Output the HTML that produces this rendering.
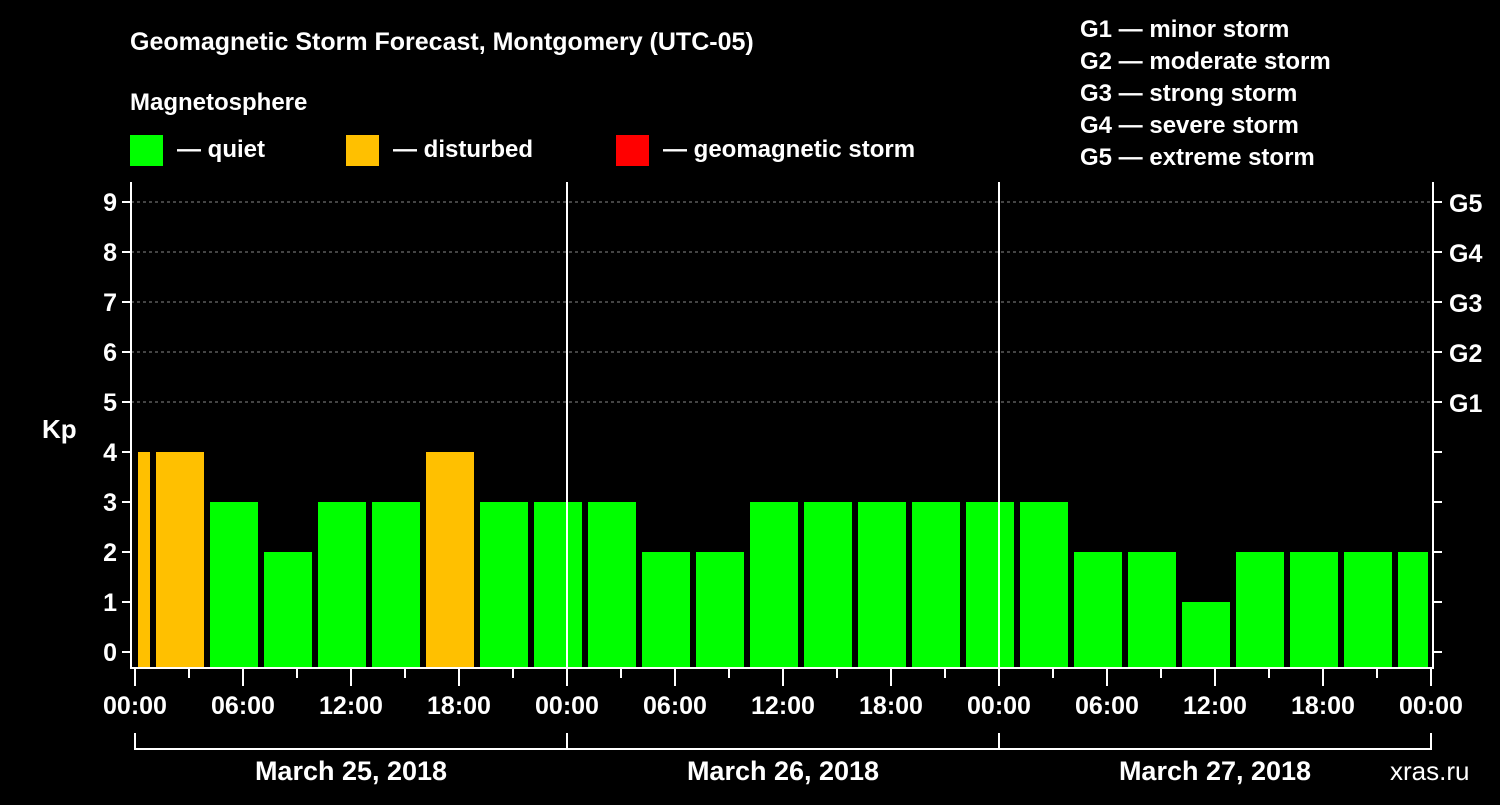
<!DOCTYPE html>
<html><head><meta charset="utf-8"><style>
body{margin:0;background:#000;}
svg text{font-family:"Liberation Sans",Arial,sans-serif;font-weight:bold;fill:#fff;}
</style></head><body>
<svg width="1500" height="800" viewBox="0 0 1500 800" xmlns="http://www.w3.org/2000/svg">
<rect width="1500" height="800" fill="#000"/>
<text x="130" y="50" font-size="25">Geomagnetic Storm Forecast, Montgomery (UTC-05)</text>
<text x="130" y="110" font-size="24">Magnetosphere</text>
<rect x="130" y="135" width="33" height="31" fill="#00ff00"/>
<text x="177" y="157" font-size="24">— quiet</text>
<rect x="346" y="135" width="33" height="31" fill="#ffc000"/>
<text x="393" y="157" font-size="24">— disturbed</text>
<rect x="616" y="135" width="33" height="31" fill="#ff0000"/>
<text x="663" y="157" font-size="24">— geomagnetic storm</text>
<g font-size="24">
<text x="1080" y="37">G1 — minor storm</text>
<text x="1080" y="69">G2 — moderate storm</text>
<text x="1080" y="101">G3 — strong storm</text>
<text x="1080" y="133">G4 — severe storm</text>
<text x="1080" y="165">G5 — extreme storm</text>
</g>
<text x="42" y="438" font-size="26">Kp</text>
<text x="1390" y="780" font-size="26" fill="#ccc" style="font-weight:normal">xras.ru</text>
<g id="plot"></g>
</svg>
<script>
const hours = [-2,1,4,7,10,13,16,19,22,25,28,31,34,37,40,43,46,49,52,55,58,61,64,67,70];
const kp = [4,4,3,2,3,3,4,3,3,3,2,2,3,3,3,3,3,3,2,2,1,2,2,2,2];
const xLabels = ["00:00","06:00","12:00","18:00","00:00","06:00","12:00","18:00","00:00","06:00","12:00","18:00","00:00"];
const dayLabels = ["March 25, 2018","March 26, 2018","March 27, 2018"];
const gLabels = ["G1","G2","G3","G4","G5"];
const X0=135, PXH=18, Y0=652, PXK=50, TOP=182, BOT=668, L=131, R=1433, HMAX=72;
const x = h => X0 + Math.max(0,Math.min(HMAX,h))*PXH;
const y = v => Y0 - v*PXK;
const NS="http://www.w3.org/2000/svg";
const g=document.getElementById('plot');
function mk(t,a,p){const e=document.createElementNS(NS,t);for(const k in a)e.setAttribute(k,a[k]);(p||g).appendChild(e);return e;}
// grid
for(let k=5;k<=9;k++){const l=mk('line',{x1:L,x2:R,y1:y(k),y2:y(k),stroke:'#888','stroke-dasharray':'3,3','stroke-width':1});

}
// bars
hours.forEach((h,i)=>{
 const x1=Math.max(x(h)+3,136), x2=Math.min(x(h+3)-3,1428);
 const v=kp[i];
 const c=v>=5?'#ff0000':(v>=4?'#ffc000':'#00ff00');
 const b=mk('rect',{x:x1,y:y(v),width:x2-x1,height:BOT-y(v),fill:c});
 
 
});
// day separators
[24,48].forEach(h=>{const l=mk('line',{x1:x(h),x2:x(h),y1:TOP,y2:BOT,stroke:'#fff','stroke-width':2});

});
// axes
const ax=mk('path',{d:`M${L},${TOP}V${BOT}H${R}V${TOP}`,stroke:'#fff','stroke-width':2,fill:'none'});


for(let k=0;k<=9;k++){
 mk('line',{x1:L-9,x2:L,y1:y(k),y2:y(k),stroke:'#fff','stroke-width':2});
 mk('line',{x1:R,x2:R+9,y1:y(k),y2:y(k),stroke:'#fff','stroke-width':2});
 const t=mk('text',{x:L-14,y:y(k)+9,'font-size':25,'text-anchor':'end'});t.textContent=k;
 
 
}
gLabels.forEach((s,i)=>{const t=mk('text',{x:R+16,y:y(5+i)+10,'font-size':25});t.textContent=s;
 
 });
for(let h=0;h<=HMAX;h+=3){const major=h%6===0;
 mk('line',{x1:x(h),x2:x(h),y1:BOT,y2:BOT+(major?18:10),stroke:'#fff','stroke-width':2});}
xLabels.forEach((s,i)=>{const t=mk('text',{x:x(i*6),y:714,'font-size':25,'text-anchor':'middle'});t.textContent=s;
 
 });
const br=mk('path',{d:`M${x(0)},733V749H${x(72)}V733M${x(24)},733V749M${x(48)},733V749`,stroke:'#fff','stroke-width':2,fill:'none'});


dayLabels.forEach((s,i)=>{const t=mk('text',{x:x(i*24+12),y:780,'font-size':27,'text-anchor':'middle'});t.textContent=s;
 
 });
</script>
</body></html>
